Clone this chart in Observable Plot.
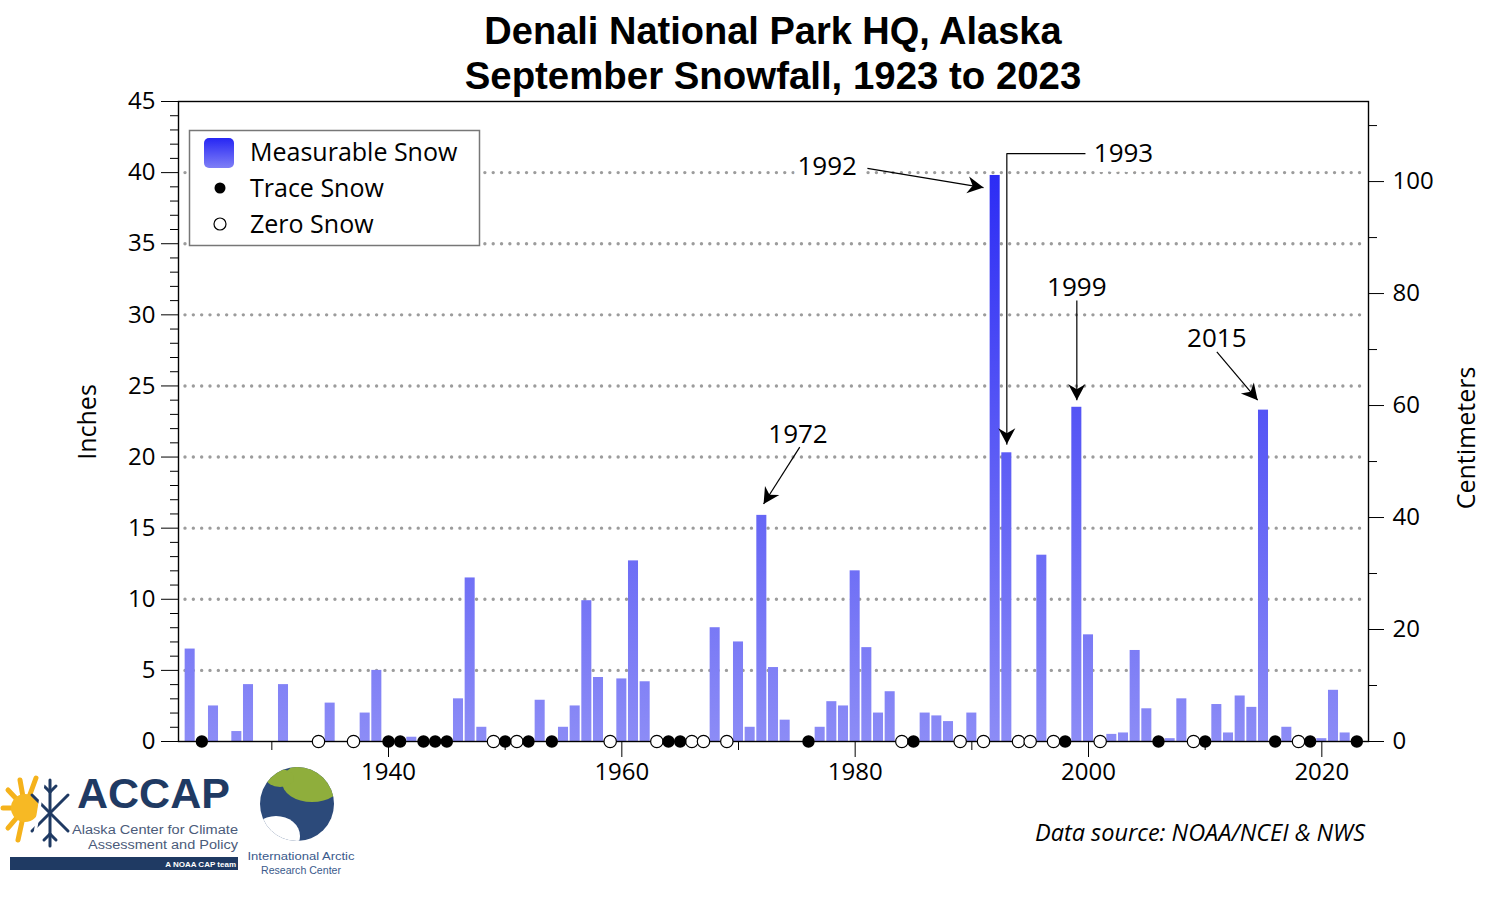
<!DOCTYPE html>
<html>
<head>
<meta charset="utf-8">
<script src="https://cdn.jsdelivr.net/npm/d3@7"></script>
<script src="https://cdn.jsdelivr.net/npm/@observablehq/plot@0.6"></script>
<style>
  html, body { margin: 0; padding: 0; background: #fff; }
  #wrap { position: relative; width: 1500px; height: 900px; overflow: hidden; background: #fff; }
  #chart svg { display: block; }
  #overlay { position: absolute; left: 0; top: 0; pointer-events: none; }
</style>
</head>
<body>
<div id="wrap">
  <div id="chart"></div>
  <svg id="overlay" width="1500" height="900" xmlns="http://www.w3.org/2000/svg">
    <defs>
      <linearGradient id="legGrad" x1="0" y1="0" x2="0" y2="1">
        <stop offset="0" stop-color="#2626f4"/>
        <stop offset="1" stop-color="#7f7ff6"/>
      </linearGradient>
      <clipPath id="globeClip"><circle cx="297" cy="804" r="37"/></clipPath>
    </defs>
    <!-- Title -->
    <g font-family="'Liberation Sans', Arial, sans-serif" font-weight="bold" text-anchor="middle" fill="#000">
      <text x="773" y="44" font-size="38">Denali National Park HQ, Alaska</text>
      <text x="773" y="89" font-size="38.4">September Snowfall, 1923 to 2023</text>
    </g>
    <!-- Legend -->
    <g font-family="'Open Sans', sans-serif" font-size="25" fill="#000">
      <rect x="189.5" y="130.5" width="290" height="115" fill="#fff" stroke="#777" stroke-width="1.5"/>
      <rect x="204" y="138" width="30" height="30" rx="5" fill="url(#legGrad)"/>
      <circle cx="220" cy="188" r="5.5" fill="#000"/>
      <circle cx="220" cy="224" r="6" fill="#fff" stroke="#000" stroke-width="1.2"/>
      <text x="250" y="161">Measurable Snow</text>
      <text x="250" y="197">Trace Snow</text>
      <text x="250" y="233">Zero Snow</text>
    </g>
    <!-- Axis titles -->
    <g font-family="'Open Sans', sans-serif" font-size="25" fill="#000" text-anchor="middle">
      <text transform="translate(87,422) rotate(-90)" dy="0.36em">Inches</text>
      <text transform="translate(1466,438) rotate(-90)" dy="0.36em">Centimeters</text>
    </g>
    <!-- Source -->
    <text x="1365" y="841" text-anchor="end" font-family="'Open Sans', sans-serif" font-size="23.5" font-style="italic" fill="#000">Data source: NOAA/NCEI &amp; NWS</text>
    <!-- ACCAP logo -->
    <g>
      <g stroke="#f5b21b" stroke-width="5" stroke-linecap="round">
        <line x1="25" y1="808" x2="3" y2="808"/>
        <line x1="25" y1="808" x2="8" y2="790"/>
        <line x1="25" y1="808" x2="20" y2="780"/>
        <line x1="25" y1="808" x2="8" y2="828"/>
        <line x1="25" y1="808" x2="18" y2="840"/>
        <line x1="25" y1="808" x2="36" y2="778"/>
      </g>
      <circle cx="25" cy="808" r="14" fill="#f7b924"/>
      <g stroke="#1f3a63" stroke-width="3" stroke-linecap="round">
        <line x1="50" y1="780" x2="50" y2="846"/>
        <line x1="32" y1="795" x2="68" y2="831"/>
        <line x1="32" y1="831" x2="68" y2="795"/>
        <line x1="44" y1="786" x2="50" y2="792"/><line x1="56" y1="786" x2="50" y2="792"/>
        <line x1="44" y1="840" x2="50" y2="834"/><line x1="56" y1="840" x2="50" y2="834"/>
      </g>
      <line x1="45" y1="772" x2="32" y2="852" stroke="#fff" stroke-width="3"/>
      <text x="77" y="808" font-family="'Liberation Sans', Arial, sans-serif" font-weight="bold" font-size="43" fill="#1f3a63">ACCAP</text>
      <text x="238" y="834" text-anchor="end" font-family="'Liberation Sans', Arial, sans-serif" font-size="12.5" fill="#4b5b7a" textLength="166" lengthAdjust="spacingAndGlyphs">Alaska Center for Climate</text>
      <text x="238" y="849" text-anchor="end" font-family="'Liberation Sans', Arial, sans-serif" font-size="12.5" fill="#4b5b7a" textLength="150" lengthAdjust="spacingAndGlyphs">Assessment and Policy</text>
      <rect x="10" y="857" width="228" height="13" fill="#1f3a63"/>
      <text x="236" y="867" text-anchor="end" font-family="'Liberation Sans', Arial, sans-serif" font-weight="bold" font-size="8" fill="#fff">A NOAA CAP team</text>
    </g>
    <!-- IARC logo -->
    <g>
      <circle cx="297" cy="804" r="37" fill="#2c4a7a"/>
      <g clip-path="url(#globeClip)">
        <ellipse cx="312" cy="782" rx="30" ry="20" fill="#8fae3c"/>
        <ellipse cx="280" cy="778" rx="14" ry="9" fill="#8fae3c"/>
        <ellipse cx="276" cy="836" rx="24" ry="20" fill="#fff"/>
      </g>
      <text x="301" y="860" text-anchor="middle" font-family="'Liberation Sans', Arial, sans-serif" font-size="11" fill="#3a5a8c" textLength="107" lengthAdjust="spacingAndGlyphs">International Arctic</text>
      <text x="301" y="874" text-anchor="middle" font-family="'Liberation Sans', Arial, sans-serif" font-size="11" fill="#3a5a8c" textLength="80" lengthAdjust="spacingAndGlyphs">Research Center</text>
    </g>
  </svg>
</div>
<script>
// ---------------- Data ----------------
const measurableYears = [1923,1925,1927,1928,1931,1935,1938,1939,1942,1946,1947,1948,1953,1955,1956,1957,1958,1960,1961,1962,1968,1970,1971,1972,1973,1974,1977,1978,1979,1980,1981,1982,1983,1986,1987,1988,1990,1992,1993,1996,1999,2000,2002,2003,2004,2005,2007,2008,2011,2012,2013,2014,2015,2017,2020,2021,2022];
const measurableInches = [6.5,2.5,0.7,4.0,4.0,2.7,2.0,5.0,0.3,3.0,11.5,1.0,2.9,1.0,2.5,9.9,4.5,4.4,12.7,4.2,8.0,7.0,1.0,15.9,5.2,1.5,1.0,2.8,2.5,12.0,6.6,2.0,3.5,2.0,1.8,1.4,2.0,39.8,20.3,13.1,23.5,7.5,0.5,0.6,6.4,2.3,0.2,3.0,2.6,0.6,3.2,2.4,23.3,1.0,0.2,3.6,0.6];
const traceYears = [1924,1940,1941,1943,1944,1945,1950,1952,1954,1964,1965,1976,1985,1998,2006,2010,2016,2019,2023];
const zeroYears = [1934,1937,1949,1951,1959,1963,1966,1967,1969,1984,1989,1991,1994,1995,1997,2001,2009,2018];

// Tick values
const xMajorTicks = [1940,1960,1980,2000,2020];
const xMinorTicks = [1930,1950,1970,1990,2010];
const yMajorTicks = [0,5,10,15,20,25,30,35,40,45];
const yMinorTicks = [1,2,3,4,6,7,8,9,11,12,13,14,16,17,18,19,21,22,23,24,26,27,28,29,31,32,33,34,36,37,38,39,41,42,43,44];
const cmMajorTicks = [0,20,40,60,80,100];
const cmMinorTicks = [10,30,50,70,90,110];
const gridInches = [5,10,15,20,25,30,35,40];

// Annotations (label position in year / inches)
const annLabels = ["1972","1992","1993","1999","2015"];
const annTextX = [1975.1,1977.6,2003.0,1999.0,2011.0];
const annTextY = [21.6,40.4,41.3,31.9,28.3];
const annHalo  = [false,true,true,false,false];
// Straight arrows
const arrowFromX = [1975.25,1981.05,1999.0,2011.0];
const arrowFromY = [20.7,40.3,31.0,27.4];
const arrowToX   = [1972.15,1991.0,1999.0,2014.5];
const arrowToY   = [16.7,38.95,24.0,24.0];
// Bent arrow for 1993
const bentX = [1999.7,1993.0,1993.0];
const bentY = [41.33,41.33,20.9];

// ---------------- Build tables ----------------
const measurable = measurableYears.map((year, i) => ({year, inches: measurableInches[i]}));
const annotations = annLabels.map((label, i) => ({label, x: annTextX[i], y: annTextY[i], halo: annHalo[i]}));
const arrows = arrowFromX.map((_, i) => ({x1: arrowFromX[i], y1: arrowFromY[i], x2: arrowToX[i], y2: arrowToY[i]}));
const bent = bentX.map((x, i) => ({x, y: bentY[i]}));
const toInches = cm => cm / 2.54;

const chart = Plot.plot({
  width: 1500,
  height: 900,
  marginLeft: 178,
  marginRight: 132,
  marginTop: 101,
  marginBottom: 159,
  style: {fontFamily: "'Open Sans', sans-serif", fontSize: "24px", color: "black", background: "white"},
  x: {domain: [1922, 2024]},
  y: {domain: [0, 45]},
  marks: [
    Plot.ruleY(gridInches, {stroke: "#9c9c9c", strokeWidth: 3.4, strokeDasharray: "0,8.33", strokeLinecap: "round", insetLeft: 7, insetRight: 7}),
    Plot.text(annotations.filter(d => d.halo), {x: "x", y: "y", text: "label", fontSize: 26, fill: "black", stroke: "white", strokeWidth: 20, strokeLinejoin: "round", paintOrder: "stroke"}),
    Plot.text(annotations.filter(d => !d.halo), {x: "x", y: "y", text: "label", fontSize: 26, fill: "black"}),
    Plot.rect(measurable, {x1: d => d.year - 0.43, x2: d => d.year + 0.43, y1: 0, y2: "inches", fill: "url(#snowGrad)"}),
    Plot.link(arrows, {x1: "x1", y1: "y1", x2: "x2", y2: "y2", stroke: "#010101", strokeWidth: 1.2}),
    Plot.line(bent, {x: "x", y: "y", stroke: "#020202", strokeWidth: 1.2, curve: "linear"}),
    Plot.frame({stroke: "black", strokeWidth: 1.4}),
    Plot.axisY({anchor: "left", ticks: yMajorTicks, tickSize: 17, tickPadding: 6, fontSize: 24, label: null, tickFormat: d => String(d)}),
    Plot.axisY({anchor: "left", ticks: yMinorTicks, tickSize: 8, tickFormat: () => "", label: null}),
    Plot.axisY({anchor: "right", ticks: cmMajorTicks.map(toInches), tickSize: 15, tickPadding: 9, fontSize: 24, label: null, tickFormat: d => String(Math.round(d * 2.54))}),
    Plot.axisY({anchor: "right", ticks: cmMinorTicks.map(toInches), tickSize: 8, tickFormat: () => "", label: null}),
    Plot.axisX({ticks: xMajorTicks, tickSize: 16, tickPadding: 5, fontSize: 24, label: null, tickFormat: d => String(d)}),
    Plot.axisX({ticks: xMinorTicks, tickSize: 9, tickFormat: () => "", label: null}),
    Plot.dot(zeroYears, {x: d => d, y: 0, r: 6.2, fill: "white", stroke: "black", strokeWidth: 1.2}),
    Plot.dot(traceYears, {x: d => d, y: 0, r: 6.2, fill: "black", stroke: "none"})
  ]
});

// gradient + filled arrowheads
const yScale = chart.scale("y");
const svg = d3.select(chart);
const defs = svg.insert("defs", ":first-child");
const grad = defs.append("linearGradient")
  .attr("id", "snowGrad")
  .attr("gradientUnits", "userSpaceOnUse")
  .attr("x1", 0).attr("x2", 0)
  .attr("y1", yScale.apply(45)).attr("y2", yScale.apply(0));
grad.append("stop").attr("offset", 0).attr("stop-color", "#2020f4");
grad.append("stop").attr("offset", 1).attr("stop-color", "#8c8cf6");
const marker = defs.append("marker")
  .attr("id", "ahead")
  .attr("viewBox", "-18 -10 20 20")
  .attr("markerWidth", 20).attr("markerHeight", 20)
  .attr("refX", 0).attr("refY", 0)
  .attr("orient", "auto")
  .attr("markerUnits", "userSpaceOnUse");
marker.append("path").attr("d", "M0,0L-16,-8.5L-11,0L-16,8.5Z").attr("fill", "black");
svg.selectAll('g[stroke="#010101"] path, g[stroke="#020202"] path').attr("marker-end", "url(#ahead)");

document.getElementById("chart").appendChild(chart);
</script>
</body>
</html>
